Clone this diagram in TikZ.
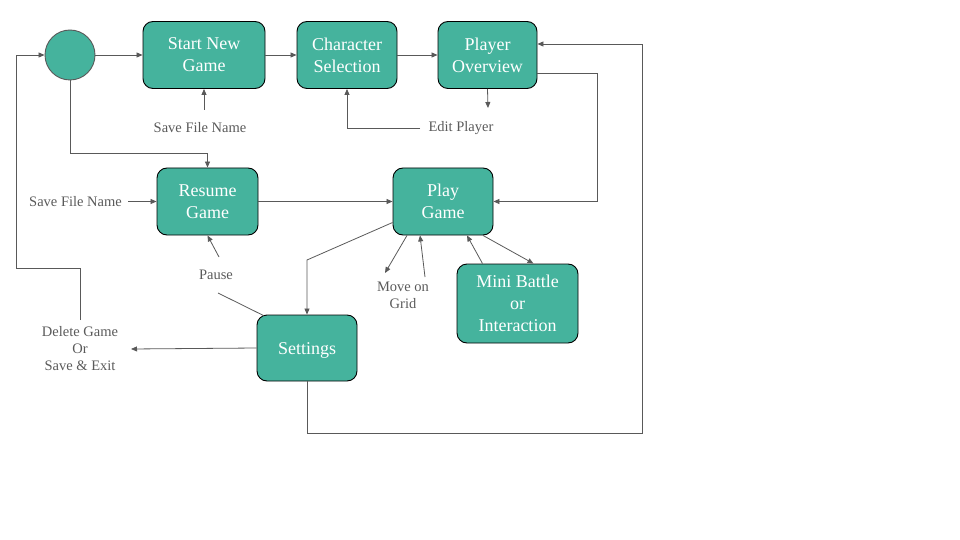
\documentclass[tikz,border=0pt]{standalone}
\usepackage{fontspec}
\setmainfont{Liberation Serif}
\usetikzlibrary{arrows.meta,calc}
\definecolor{boxteal}{HTML}{45B39D}
\definecolor{linegray}{HTML}{595959}
\definecolor{labelgray}{HTML}{5A5A5A}
\begin{document}
\begin{tikzpicture}[x=1pt,y=-1pt,
  box/.style={draw=black, line width=0.9pt, fill=boxteal, rounded corners=10pt,
    minimum height=67pt, inner sep=0pt, align=center, text=white,
    font=\fontsize{18}{22}\selectfont,
    execute at begin node={\rule{0pt}{17pt}}},
  lbl/.style={text=labelgray, align=center, inner sep=0pt,
    font=\fontsize{14.5}{17}\selectfont},
  conn/.style={draw=linegray, line width=0.8pt},
  arr/.style={conn, -{Triangle[length=6pt,width=5pt]}}]
\useasboundingbox (0,0) rectangle (960,540);

% states
\node[circle, draw=linegray, line width=0.9pt, fill=boxteal, minimum size=50pt, inner sep=0pt] (circ) at (70,55) {};
\node[box, minimum width=122pt] (newg) at (204,55) {Start New\\Game};
\node[box, minimum width=100pt] (charsel) at (347,55) {Character\\Selection};
\node[box, minimum width=99pt] (plov) at (487.5,55) {Player\\Overview};
\node[box, minimum width=101pt] (resume) at (207.5,201.5) {Resume\\Game};
\node[box, minimum width=100pt] (play) at (443,201.5) {Play\\Game};
\node[box, minimum width=121pt, minimum height=79pt] (mini) at (517.5,303.5) {Mini Battle\\or\\Interaction};
\node[box, minimum width=100pt, minimum height=66pt] (sett) at (307,348) {Settings};

% labels
\node[lbl] (sfn1) at (200,128) {Save File Name};
\node[lbl] (edit) at (461,128) {Edit Player};
\node[lbl] (sfn2) at (75.5,202) {Save File Name};
\node[lbl] (pause) at (216,275) {Pause};
\node[lbl] (move) at (403,295) {Move on\\Grid};
\node[lbl] (del) at (80,349) {Delete Game\\Or\\Save \& Exit};

% free ends and bends
\coordinate (c1) at (204,110);
\coordinate (c2) at (420,128);
\coordinate (c3) at (488,108);
\coordinate (r1) at (597,201.5);
\coordinate (br) at (642,433);
\coordinate (c4) at (80,320);
\coordinate (l1) at (16,268);
\coordinate (c5) at (128,201.5);
\coordinate (c6) at (219,257);
\coordinate (c7) at (218,293);
\coordinate (j15) at (307,260);
\coordinate (c8) at (385,273);
\coordinate (c9) at (425,277);
\coordinate (c10) at (131,349);

% main flow
\draw[arr] (circ.east) -- (newg.west);
\draw[arr] (newg.east) -- (charsel.west);
\draw[arr] (charsel.east) -- (plov.west);
\draw[arr] (c1) -- (newg.south);
\draw[arr] (c2) -| (charsel.south);
\draw[arr] (plov.south) -- (c3);
\draw[arr] ([yshift=-18pt]plov.east) -| (r1) -- (play.east);
\draw[arr] (sett.south) |- (br) |- ([yshift=11pt]plov.east);
\draw[arr] (circ.south) -- ++(0,73) -| (resume.north);
\draw[arr] (c4) |- (l1) |- (circ.west);
\draw[arr] (c5) -- (resume.west);
\draw[arr] (resume.east) -- (play.west);
\draw[arr] (c6) -- (resume.south);
\draw[conn] (c7) -- ([xshift=7pt,yshift=-1pt]sett.north west);
\draw[arr] ([yshift=-21pt]play.west) -- (j15) -- (sett.north);
\draw[arr] ([xshift=-36pt]play.south) -- (c8);
\draw[arr] (c9) -- ([xshift=-23pt]play.south);
\draw[arr] ([xshift=-35pt]mini.north) -- ([xshift=24pt]play.south);
\draw[arr] ([xshift=40pt]play.south) -- ([xshift=16pt]mini.north);
\draw[arr] (sett.west) -- (c10);
\end{tikzpicture}
\end{document}
